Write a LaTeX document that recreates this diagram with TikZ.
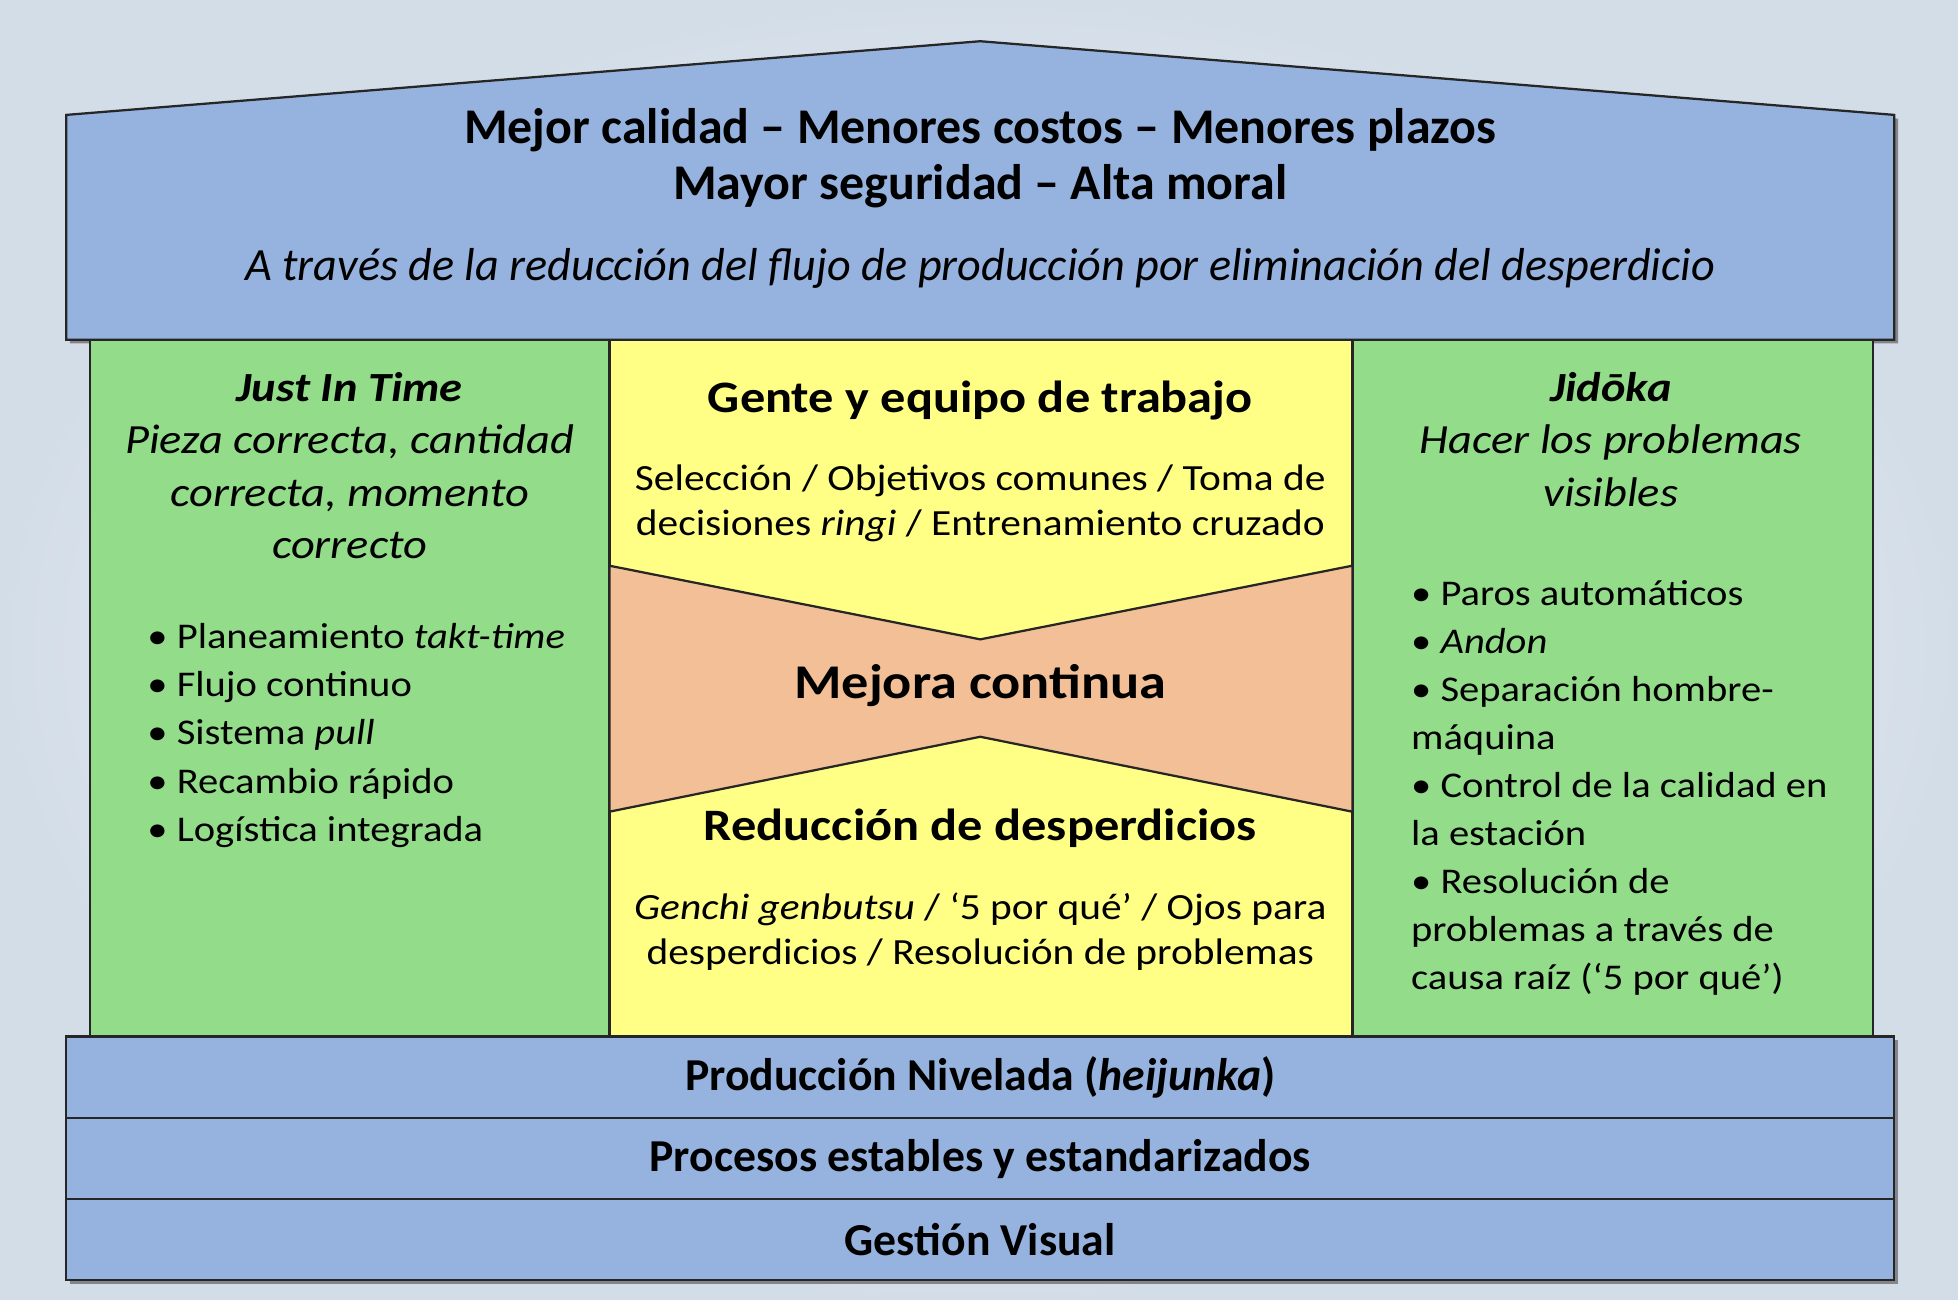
\documentclass[tikz,border=0pt]{standalone}
\usepackage{fontspec}
\setmainfont{Carlito}
\newfontfamily\widefont[FakeStretch=1.12]{Carlito}
\usetikzlibrary{shadows}

\definecolor{roofblue}{HTML}{95B3DE}
\definecolor{pillargreen}{HTML}{93DC89}
\definecolor{coreyellow}{HTML}{FFFF85}
\definecolor{boworange}{HTML}{F2BF96}
\definecolor{skyblue}{HTML}{D3DDE8}

\tikzset{
    housepart/.style={draw=black!85, line width=0.9pt},
    shadowed/.style={drop shadow={shadow xshift=1.5pt, shadow yshift=-1.5pt, opacity=0.6, fill=black!70}},
    roofline/.style={font=\fontsize{20}{24}\selectfont\bfseries},
    bandtext/.style={font=\fontsize{18.3}{22}\selectfont\bfseries},
    pillarhead/.style={font=\widefont\fontsize{16.6}{21}\selectfont\itshape, align=center},
    pillarlist/.style={font=\widefont\fontsize{14.5}{19.25}\selectfont, align=left, anchor=west},
    corehead/.style={font=\widefont\fontsize{18}{21}\selectfont\bfseries},
    corelist/.style={font=\widefont\fontsize{14.8}{18.25}\selectfont, align=center},
}

\begin{document}
\begin{tikzpicture}[x=0.5pt, y=-0.5pt]
    %background
    \shade[inner color=white, outer color=skyblue] (0,0) rectangle (1568,1041);
    \useasboundingbox (0,0) rectangle (1568,1041);

    %roof
    \draw[housepart, shadowed, fill=roofblue]
        (53,92) -- (785,33) -- (1517,92) -- (1517,272) -- (53,272) -- cycle;
    \node[roofline] (goals) at (785,104)
        {Mejor calidad – Menores costos – Menores plazos};
    \node[roofline] (safety) at (785,149)
        {Mayor seguridad – Alta moral};
    \node[roofline, font=\fontsize{18.5}{22}\selectfont\itshape] (means) at (785,215)
        {A través de la reducción del flujo de producción por eliminación del desperdicio};

    %pillars
    \foreach \xa/\xb/\col in {72/488/pillargreen, 488/1083/coreyellow, 1083/1500/pillargreen}
    {
        \draw[housepart, fill=\col] (\xa,272) rectangle (\xb,830);
    }
    \draw[housepart, fill=boworange]
        (488,453) -- (785,512) -- (1083,453) -- (1083,650) -- (785,590) -- (488,650) -- cycle;

    %left pillar
    \node[pillarhead] (jit) at (280,373)
        {\textbf{Just In Time}\\Pieza correcta, cantidad\\correcta, momento\\correcto};
    \node[pillarlist] (jitlist) at (111,589)
        {\textbullet\ Planeamiento \textit{takt-time}\\
         \textbullet\ Flujo continuo\\
         \textbullet\ Sistema \textit{pull}\\
         \textbullet\ Recambio rápido\\
         \textbullet\ Logística integrada};

    %centre
    \node[corehead] (people) at (785,321) {Gente y equipo de trabajo};
    \node[corelist] (peoplelist) at (785,403)
        {Selección / Objetivos comunes / Toma de\\decisiones \textit{ringi} / Entrenamiento cruzado};
    \node[corehead, font=\widefont\fontsize{19.4}{24}\selectfont\bfseries] (kaizen) at (785,549) {Mejora continua};
    \node[corehead] (waste) at (785,663) {Reducción de desperdicios};
    \node[corelist] (wastelist) at (785,746)
        {\textit{Genchi genbutsu} / ‘5 por qué’ / Ojos para\\desperdicios / Resolución de problemas};

    %right pillar
    \node[pillarhead] (jidoka) at (1290,352)
        {\textbf{Jidōka}\\Hacer los problemas\\visibles};
    \node[pillarlist] (jidokalist) at (1123,631)
        {\textbullet\ Paros automáticos\\
         \textbullet\ \textit{Andon}\\
         \textbullet\ Separación hombre-\\
         máquina\\
         \textbullet\ Control de la calidad en\\
         la estación\\
         \textbullet\ Resolución de\\
         problemas a través de\\
         causa raíz (‘5 por qué’)};

    %foundation
    \foreach \y/\txt in {830/{Producción Nivelada (\textit{heijunka})},
                         895/{Procesos estables y estandarizados},
                         960/{Gestión Visual}}
    {
        \draw[housepart, shadowed, fill=roofblue] (53,\y) rectangle (1517,{\y+65});
        \node[bandtext] (band\y) at (785,{\y+33}) {\txt};
    }
\end{tikzpicture}
\end{document}
